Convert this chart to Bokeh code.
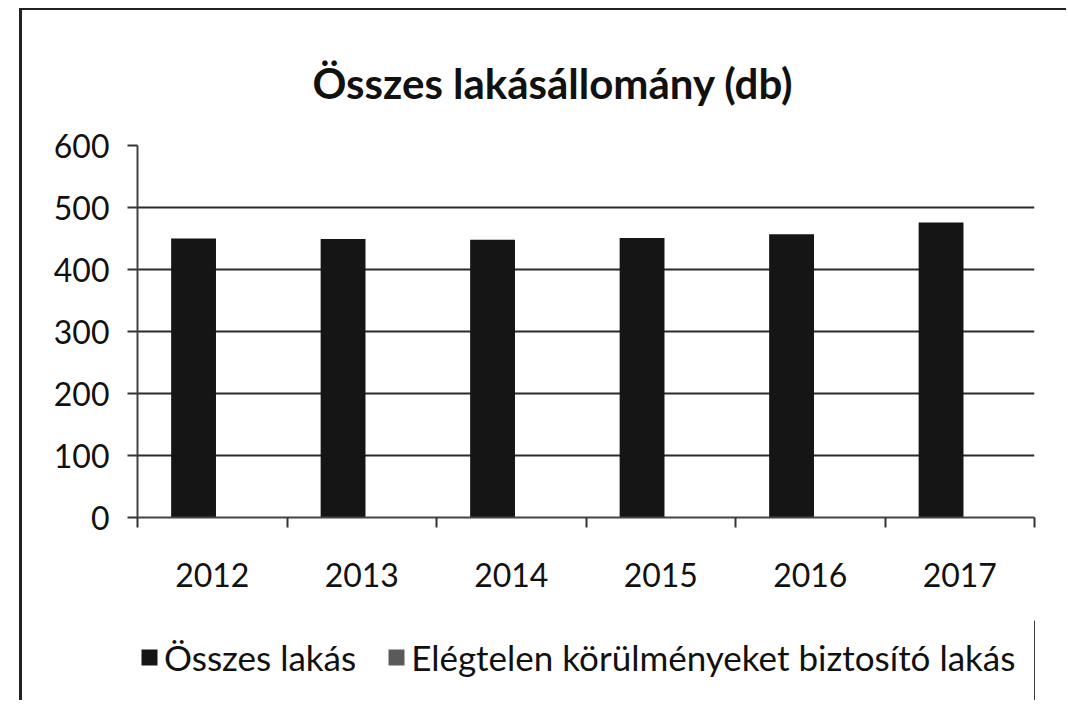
from bokeh.plotting import figure
from bokeh.layouts import column
from bokeh.models import (Range1d, LinearAxis, FixedTicker, Legend, LegendItem,
                          ColumnDataSource)
from bokeh.transform import dodge
from bokeh.embed import file_html
from bokeh.resources import INLINE

title_text = "Összes lakásállomány (db)"
years = ["2012", "2013", "2014", "2015", "2016", "2017"]
osszes = [450, 449, 448, 451, 457, 476]
elegtelen = [0, 0, 0, 0, 0, 0]
series_names = ["Összes lakás", "Elégtelen körülményeket biztosító lakás"]
series_colors = ["#151515", "#5a5a5a"]
y_ticks = [0, 100, 200, 300, 400, 500, 600]

FONT = "Lato"

centres = [i + 0.5 for i in range(len(years))]
src = ColumnDataSource(dict(xc=centres, year=years, osszes=osszes, elegtelen=elegtelen))

p = figure(width=1044, height=610, x_range=Range1d(0, len(years)),
           y_range=Range1d(0, 600), output_backend="svg", toolbar_location=None,
           x_axis_location=None, min_border_left=115, min_border_right=32,
           min_border_top=135, min_border_bottom=103)
p.outline_line_color = None
p.background_fill_color = "white"

p.title.text = title_text
p.title.text_font = FONT
p.title.text_font_style = "bold"
p.title.text_font_size = "42px"
p.title.align = "left"
p.title.offset = 175
p.title.standoff = 76
p.title.text_color = "#111111"

r1 = p.vbar(x=dodge("xc", -0.125), top="osszes", width=0.3, source=src,
            fill_color=series_colors[0], line_color=None)
r2 = p.vbar(x=dodge("xc", 0.175), top="elegtelen", width=0.3, source=src,
            fill_color=series_colors[1], line_color=None)

# x axis: labels at category centres, tick marks between categories
xa = LinearAxis(ticker=FixedTicker(ticks=centres, minor_ticks=list(range(len(years) + 1))))
xa.major_label_overrides = {c: y for c, y in zip(centres, years)}
xa.major_tick_line_color = None
xa.minor_tick_out = 10
xa.minor_tick_in = 0
xa.minor_tick_line_color = "#333333"
xa.minor_tick_line_width = 2
xa.axis_line_color = "#444444"
xa.axis_line_width = 2
xa.major_label_text_font = FONT
xa.major_label_text_font_size = "32px"
xa.major_label_text_color = "#111111"
xa.major_label_standoff = 35
p.add_layout(xa, "below")

ya = p.yaxis[0]
ya.ticker = FixedTicker(ticks=y_ticks)
ya.minor_tick_line_color = None
ya.major_tick_out = 10
ya.major_tick_in = 0
ya.major_tick_line_color = "#333333"
ya.major_tick_line_width = 2
ya.axis_line_color = "#444444"
ya.axis_line_width = 2
ya.major_label_text_font = FONT
ya.major_label_text_font_size = "32px"
ya.major_label_text_color = "#111111"
ya.major_label_standoff = 18

p.xgrid.grid_line_color = None
p.ygrid.grid_line_color = "#2a2a2a"
p.ygrid.grid_line_width = 2

# legend strip below the chart (separate figure so the legend is not clipped)
lg = figure(width=1044, height=80, x_range=Range1d(-100, -99), y_range=Range1d(0, 1),
            output_backend="svg", toolbar_location=None,
            x_axis_location=None, y_axis_location=None,
            min_border_left=0, min_border_right=0, min_border_top=0, min_border_bottom=0)
lg.outline_line_color = None
lg.grid.grid_line_color = None
l1 = lg.vbar(x=dodge("xc", -0.125), top="osszes", width=0.3, source=src,
             fill_color=series_colors[0], line_color=None)
l2 = lg.vbar(x=dodge("xc", 0.175), top="elegtelen", width=0.3, source=src,
             fill_color=series_colors[1], line_color=None)

legend = Legend(items=[LegendItem(label=series_names[0], renderers=[l1]),
                       LegendItem(label=series_names[1], renderers=[l2])],
                orientation="horizontal", location=(2, 22))
legend.label_text_font = FONT
legend.label_text_font_size = "35px"
legend.label_text_color = "#111111"
legend.glyph_width = 20
legend.glyph_height = 20
legend.label_standoff = 5
legend.spacing = 30
legend.padding = 0
legend.margin = 0
legend.border_line_color = None
legend.background_fill_alpha = 0
lg.add_layout(legend)

layout = column(p, lg, spacing=0)
layout.styles = {"margin-left": "19px", "margin-top": "8px",
                 "border-left": "3px solid #222", "border-top": "2px solid #222"}

open("out.html", "w").write(file_html(layout, INLINE))
